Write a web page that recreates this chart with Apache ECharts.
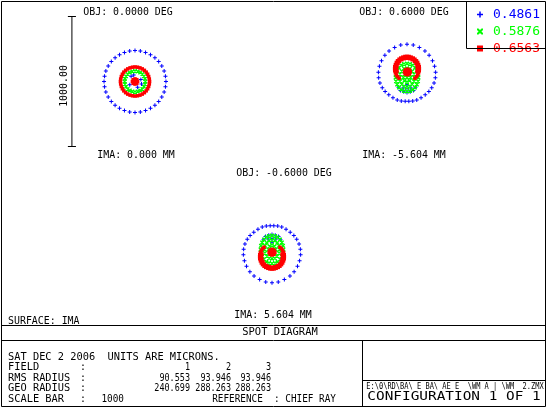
<!DOCTYPE html>
<html><head><meta charset="utf-8">
<script src="https://cdn.jsdelivr.net/npm/echarts@6/dist/echarts.min.js"></script>
<style>html,body{margin:0;padding:0;background:#fff}#c{width:548px;height:408px}</style>
</head><body><div id="c"></div>
<script>
// ---------- DATA ----------
const wavelengths = ['0.4861', '0.5876', '0.6563'];
const fieldNumbers = ['1', '2', '3'];
const objLabels = ['OBJ: 0.0000 DEG', 'OBJ: 0.6000 DEG', 'OBJ: -0.6000 DEG'];
const imaLabels = ['IMA: 0.000 MM', 'IMA: -5.604 MM', 'IMA: 5.604 MM'];
const rmsRadius = ['90.553', '93.946', '93.946'];
const geoRadius = ['240.699', '288.263', '288.263'];
const scaleBar = 1000; // microns
const dateLine = 'SAT DEC 2 2006  UNITS ARE MICRONS.';
const surfaceLabel = 'SURFACE: IMA';
const referenceLabel = 'REFERENCE  : CHIEF RAY';
const titleLabel = 'SPOT DIAGRAM';
const fileLabel = 'E:\\0\\RD\\BA\\ E BA\\ AE E  \\WM A | \\WM  2.ZMX';
const configLabel = 'CONFIGURATION 1 OF 1';

// spot coordinates in microns (x, y), relative to each field's plot centre
const f1Blue = [[238,0],[234,41],[224,81],[206,119],[182,153],[153,182],[119,206],[81,224],[41,234],[0,238],
  [-41,234],[-81,224],[-119,206],[-153,182],[-182,153],[-206,119],[-224,81],[-234,41],[-238,0],
  [-234,-41],[-224,-81],[-206,-119],[-182,-153],[-153,-182],[-119,-206],[-81,-224],[-41,-234],[0,-238],
  [41,-234],[81,-224],[119,-206],[153,-182],[182,-153],[206,-119],[224,-81],[234,-41],
  [45,15],[-30,40],[-40,-25],[20,-45],[50,-20],[-10,50]];
const f1Green = [[80,0],[77,21],[69,40],[57,57],[40,69],[21,77],[0,80],[-21,77],[-40,69],[-57,57],[-69,40],[-77,21],
  [-80,0],[-77,-21],[-69,-40],[-57,-57],[-40,-69],[-21,-77],[0,-80],[21,-77],[40,-69],[57,-57],[69,-40],[77,-21]];
const f1Red = [[112,0],[110,19],[105,38],[97,56],[86,72],[72,86],[56,97],[38,105],[19,110],[0,112],
  [-19,110],[-38,105],[-56,97],[-72,86],[-86,72],[-97,56],[-105,38],[-110,19],[-112,0],
  [-110,-19],[-105,-38],[-97,-56],[-86,-72],[-72,-86],[-56,-97],[-38,-105],[-19,-110],[0,-112],
  [19,-110],[38,-105],[56,-97],[72,-86],[86,-72],[97,-56],[105,-38],[110,-19],
  [0,0],[20,0],[14,14],[0,20],[-14,14],[-20,0],[-14,-14],[0,-20],[14,-14]];

const f2Blue = [[0,222],[48,215],[95,196],[138,170],[170,136],[196,94],[212,52],[220,6],[218,-36],[208,-77],
  [190,-113],[168,-142],[140,-168],[108,-190],[75,-208],[44,-216],[14,-218],[-14,-218],[-44,-216],[-75,-208],
  [-108,-190],[-140,-168],[-168,-142],[-190,-113],[-208,-77],[-218,-36],[-220,6],[-212,52],[-196,94],
  [-170,136],[-138,170],[-95,196],[-48,215],
  [-50,-135],[-25,-145],[0,-150],[25,-145],[50,-135],[-65,-110],[65,-110],[-30,-115],[0,-120],[30,-115],[0,-90]];
const f2Green = [[88,-35],[85,-7],[76,19],[62,41],[44,59],[23,69],[0,73],[-23,69],[-44,59],[-62,41],[-76,19],[-85,-7],
  [-88,-35],[-85,-63],[-76,-89],[-62,-111],[-44,-129],[-23,-139],[0,-143],[23,-139],[44,-129],[62,-111],[76,-89],[85,-63],
  [58,-35],[54,-7],[41,16],[22,32],[0,37],[-22,32],[-41,16],[-54,-7],[-58,-35],[-54,-63],[-41,-86],[-22,-102],
  [0,-107],[22,-102],[41,-86],[54,-63],
  [28,-35],[20,-10],[0,0],[-20,-10],[-28,-35],[-20,-60],[0,-70],[20,-60],[0,-35]];
const f2Red = [[61,-40],[73,-28],[82,-15],[89,1],[94,17],[95,33],[94,49],[89,65],[82,81],[73,94],[61,106],[48,115],
  [32,122],[16,127],[0,128],[-16,127],[-32,122],[-48,115],[-61,106],[-73,94],[-82,81],[-89,65],[-94,49],[-95,33],
  [-94,17],[-89,1],[-82,-15],[-73,-28],[-61,-40],
  [77,12],[80,33],[77,54],[69,73],[57,90],[40,102],[21,110],[0,113],[-21,110],[-40,102],[-57,90],[-69,73],[-77,54],
  [-80,33],[-77,12],
  [3,8],[25,8],[19,24],[3,30],[-13,24],[-19,8],[-13,-8],[3,-14],[19,-8]];

const f3Blue = [[0,-222],[48,-215],[95,-196],[138,-170],[170,-136],[196,-94],[212,-52],[220,-6],[218,36],[208,77],
  [190,113],[168,142],[140,168],[108,190],[75,208],[44,216],[14,218],[-14,218],[-44,216],[-75,208],
  [-108,190],[-140,168],[-168,142],[-190,113],[-208,77],[-218,36],[-220,-6],[-212,-52],[-196,-94],
  [-170,-136],[-138,-170],[-95,-196],[-48,-215],
  [-50,135],[-25,145],[0,150],[25,145],[50,135],[-65,110],[65,110],[-30,115],[0,120],[30,115],[0,90]];
const f3Green = [[88,35],[85,7],[76,-19],[62,-41],[44,-59],[23,-69],[0,-73],[-23,-69],[-44,-59],[-62,-41],[-76,-19],[-85,7],
  [-88,35],[-85,63],[-76,89],[-62,111],[-44,129],[-23,139],[0,143],[23,139],[44,129],[62,111],[76,89],[85,63],
  [58,35],[54,7],[41,-16],[22,-32],[0,-37],[-22,-32],[-41,-16],[-54,7],[-58,35],[-54,63],[-41,86],[-22,102],
  [0,107],[22,102],[41,86],[54,63],
  [28,35],[20,10],[0,0],[-20,10],[-28,35],[-20,60],[0,70],[20,60],[0,35]];
const f3Red = [[61,52],[73,40],[82,27],[89,11],[94,-5],[95,-21],[94,-37],[89,-53],[82,-69],[73,-82],[61,-94],[48,-103],
  [32,-110],[16,-115],[0,-116],[-16,-115],[-32,-110],[-48,-103],[-61,-94],[-73,-82],[-82,-69],[-89,-53],[-94,-37],
  [-95,-21],[-94,-5],[-89,11],[-82,27],[-73,40],[-61,52],
  [77,0],[80,-21],[77,-42],[69,-61],[57,-78],[40,-90],[21,-98],[0,-101],[-21,-98],[-40,-90],[-57,-78],[-69,-61],
  [-77,-42],[-80,-21],[-77,0],
  [0,14],[22,14],[16,30],[0,36],[-16,30],[-22,14],[-16,-2],[0,-8],[16,-2]];

// ---------- CHART ----------
const spots = [[f1Blue, f1Green, f1Red], [f2Blue, f2Green, f2Red], [f3Blue, f3Green, f3Red]];
const colors = ['#0000ff', '#00ff00', '#ff0000'];
const symbols = [
  'path://M1.5,0H2.5V1.5H4V2.5H2.5V4H1.5V2.5H0V1.5H1.5Z',
  'path://M0,0L1,0L4,3L4,4L3,4L0,1Z M3,0L4,0L4,1L1,4L0,4L0,3Z',
  'path://M0,0H4V4H0Z'
];
const symbolSizes = [4, 4, 3.5];
const centers = [[135, 81.5], [407, 73], [272, 254]];
const GW = 160, GH = 130, XR = 615, YR = 500;

const grids = [], xAxes = [], yAxes = [], series = [];
centers.forEach((c, i) => {
  grids.push({ left: c[0] - GW / 2, top: c[1] - GH / 2, width: GW, height: GH, show: false });
  xAxes.push({ type: 'value', gridIndex: i, min: -XR, max: XR, show: false });
  yAxes.push({ type: 'value', gridIndex: i, min: -YR, max: YR, show: false });
  spots[i].forEach((pts, w) => {
    series.push({
      type: 'scatter', name: wavelengths[w], xAxisIndex: i, yAxisIndex: i,
      data: pts, symbol: symbols[w], symbolSize: symbolSizes[w],
      itemStyle: { color: colors[w], opacity: 1 }, silent: true, clip: false, z: 2 + w
    });
  });
});

// scale bar drawn in field-1 coordinates
const sbX = -485, cap = 31;
const sbLine = { type: 'line', xAxisIndex: 0, yAxisIndex: 0, symbol: 'none', clip: false, silent: true,
  lineStyle: { color: '#000', width: 1 } };
series.push(Object.assign({}, sbLine, { data: [[sbX, -scaleBar / 2], [sbX, scaleBar / 2]] }));
series.push(Object.assign({}, sbLine, { data: [[sbX - cap, scaleBar / 2], [sbX + cap, scaleBar / 2]] }));
series.push(Object.assign({}, sbLine, { data: [[sbX - cap, -scaleBar / 2], [sbX + cap, -scaleBar / 2]] }));

const FONT = '"DejaVu Sans Mono", "Liberation Mono", monospace';
function txt(t, x, y, o) {
  o = o || {};
  return {
    type: 'text', x: x, y: y, scaleX: o.sx || 0.9, scaleY: o.sy || 1, rotation: o.rot || 0, z: 10,
    style: { text: t, font: (o.size || 11) + 'px ' + FONT, fill: o.color || '#000',
      align: o.align || 'left', verticalAlign: 'middle' }
  };
}
function ln(x1, y1, x2, y2) {
  return { type: 'line', z: 10, shape: { x1: x1, y1: y1, x2: x2, y2: y2 }, style: { stroke: '#000', lineWidth: 1 } };
}

const g = [];
g.push({ type: 'rect', z: 10, shape: { x: 1.5, y: 1.5, width: 544, height: 405 }, style: { fill: 'none', stroke: '#000', lineWidth: 1 } });
g.push(ln(466.5, 1.5, 466.5, 48.5));
g.push(ln(466.5, 48.5, 545.5, 48.5));
g.push(ln(1.5, 325.5, 545.5, 325.5));
g.push(ln(1.5, 340.5, 545.5, 340.5));
g.push(ln(362.5, 340.5, 362.5, 406.5));
g.push(ln(362.5, 380.5, 545.5, 380.5));

const objPos = [[128, 12], [404, 12], [284, 173]];
const imaPos = [[136, 155], [404, 155], [273, 315]];
objLabels.forEach((t, i) => g.push(txt(t, objPos[i][0], objPos[i][1], { align: 'center' })));
imaLabels.forEach((t, i) => g.push(txt(t, imaPos[i][0], imaPos[i][1], { align: 'center' })));
g.push(txt(scaleBar.toFixed(2), 64, 86, { align: 'center', rot: Math.PI / 2 }));

g.push(txt(surfaceLabel, 8, 321));
g.push(txt(titleLabel, 280, 332.5, { align: 'center', sx: 0.95 }));

const rowY = [357, 367.5, 378, 388.5, 399];
const colEnd = [190, 231, 271];
g.push(txt(dateLine, 8, rowY[0], { sx: 0.94 }));
g.push(txt('FIELD', 8, rowY[1], { sx: 0.94 }));
g.push(txt('RMS RADIUS', 8, rowY[2], { sx: 0.94 }));
g.push(txt('GEO RADIUS', 8, rowY[3], { sx: 0.94 }));
g.push(txt('SCALE BAR', 8, rowY[4], { sx: 0.94 }));
for (let r = 1; r <= 4; r++) g.push(txt(':', 80, rowY[r]));
fieldNumbers.forEach((t, i) => g.push(txt(t, colEnd[i], rowY[1], { align: 'right', sx: 0.77 })));
rmsRadius.forEach((t, i) => g.push(txt(t, colEnd[i], rowY[2], { align: 'right', sx: 0.77 })));
geoRadius.forEach((t, i) => g.push(txt(t, colEnd[i], rowY[3], { align: 'right', sx: 0.77 })));
g.push(txt(String(scaleBar), 124, rowY[4], { align: 'right', sx: 0.85 }));
g.push(txt(referenceLabel, 336, rowY[4], { align: 'right', sx: 0.85 }));

g.push(txt(fileLabel, 455, 387, { align: 'center', size: 9, sx: 0.78 }));
g.push(txt(configLabel, 454, 397.5, { align: 'center', size: 12, sx: 1.2, sy: 0.95 }));

const chart = echarts.init(document.getElementById('c'), null, { renderer: 'canvas' });
chart.setOption({
  animation: false,
  backgroundColor: '#ffffff',
  grid: grids, xAxis: xAxes, yAxis: yAxes, series: series,
  legend: {
    orient: 'vertical', left: 472, top: 3, itemWidth: 16, itemHeight: 6, itemGap: 4,
    selectedMode: false, symbolKeepAspect: true,
    textStyle: { fontFamily: FONT, fontSize: 13, lineHeight: 12 },
    data: wavelengths.map((w, i) => ({ name: w, icon: symbols[i], textStyle: { color: colors[i] } }))
  },
  graphic: g
});
</script></body></html>
